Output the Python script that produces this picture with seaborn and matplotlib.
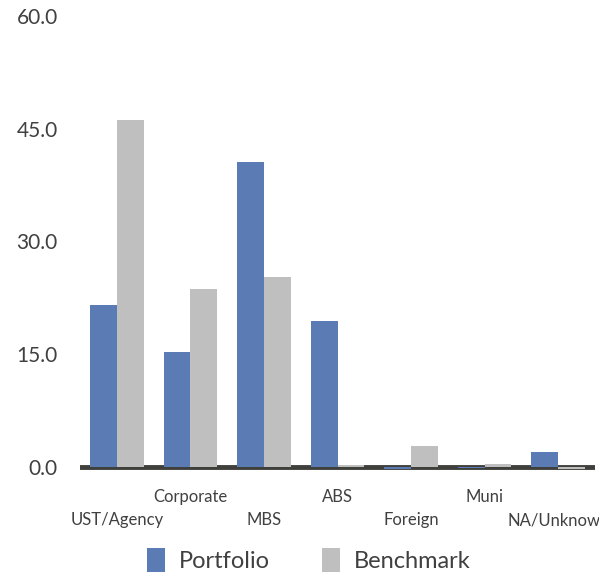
import matplotlib
matplotlib.use("Agg")
import matplotlib.pyplot as plt
import matplotlib.transforms as mtransforms
import seaborn as sns
import pandas as pd
from matplotlib.patches import Patch


# ==========================================
# DATOS
# ==========================================

sectors = ['UST/Agency', 'Corporate', 'MBS', 'ABS', 'Foreign', 'Muni', 'NA/Unknown']
portfolio = [21.5, 15.3, 40.6, 19.4, -0.3, -0.2, 2.0]
benchmark = [46.1, 23.7, 25.3, 0.3, 2.8, 0.4, -0.3]
y_ticks = [0, 15, 30, 45, 60]

series_names = ['Portfolio', 'Benchmark']
colors = ['#5B7BB5', '#BFBFBF']
text_color = '#404040'

df = pd.DataFrame({
    'sector': sectors * 2,
    'value': portfolio + benchmark,
    'series': [series_names[0]] * len(sectors) + [series_names[1]] * len(sectors)
})


# ==========================================
# GRAFICO
# ==========================================

sns.set_style('white')
plt.rcParams['font.family'] = ['Lato', 'DejaVu Sans']

fig = plt.figure(figsize=(5.99, 5.74), dpi=100)
ax = fig.add_axes([80 / 599, 1 - 482 / 574, 515 / 599, (482 - 16) / 574])

sns.barplot(
    data=df,
    x='sector',
    y='value',
    hue='series',
    palette=colors,
    width=0.73,
    gap=0,
    saturation=1,
    linewidth=0,
    legend=False,
    ax=ax,
    zorder=3
)

ax.axhline(0, color='#3F3F3B', lw=3.5, zorder=2)

ax.set_xlim(-0.5, len(sectors) - 0.5)
ax.set_ylim(-2, 60)
ax.set_yticks(y_ticks)
ax.set_yticklabels([f'{v:.1f}' for v in y_ticks])

# etiquetas alternadas en dos niveles
ax.set_xticks([])
trans = mtransforms.blended_transform_factory(ax.transData, ax.transAxes)
for i, s in enumerate(sectors):
    y_pos = -38 / 466 if i % 2 == 0 else -15 / 466
    ax.text(i, y_pos, s, transform=trans, ha='center', va='center',
            fontsize=12, color=text_color, clip_on=False)

ax.tick_params(axis='y', length=0, pad=16, labelsize=15, labelcolor=text_color)

ax.set_xlabel('')
ax.set_ylabel('')
sns.despine(ax=ax, left=True, bottom=True)

handles = [Patch(facecolor=c, edgecolor='none') for c in colors]
fig.legend(
    handles,
    series_names,
    loc='center',
    bbox_to_anchor=(309 / 599, 1 - 560 / 574),
    ncol=2,
    frameon=False,
    fontsize=17,
    labelcolor=text_color,
    handlelength=0.75,
    handleheight=1.2,
    handletextpad=0.6,
    columnspacing=2.2
)

fig.savefig('out.png', dpi=100)
